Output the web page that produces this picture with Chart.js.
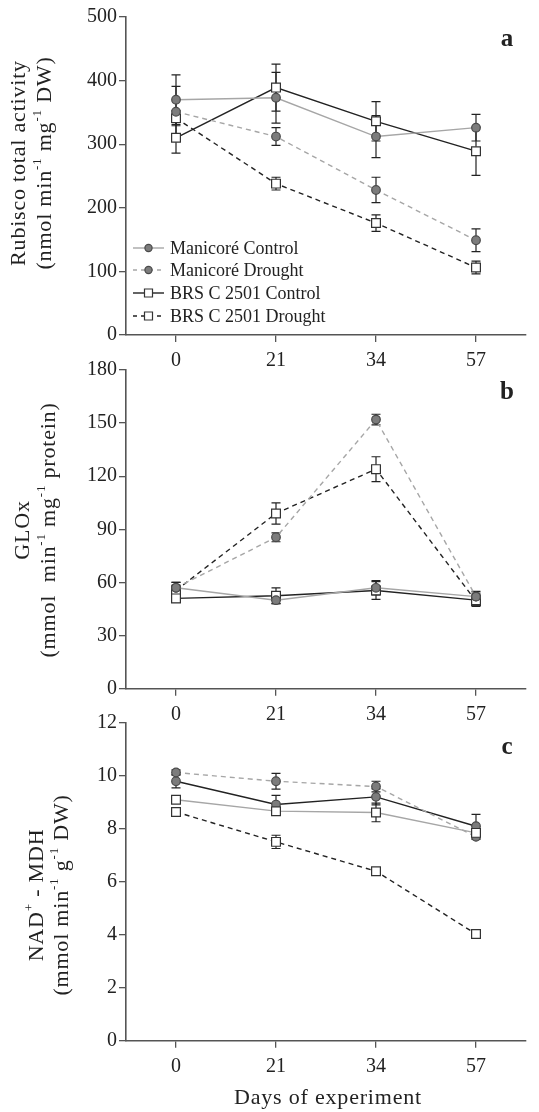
<!DOCTYPE html>
<html>
<head>
<meta charset="utf-8">
<script src="https://cdn.jsdelivr.net/npm/chart.js@4.4.1/dist/chart.umd.min.js"></script>
<style>
  body { margin: 0; background: #fff; width: 539px; height: 1112px; position: relative; overflow: hidden; }
  canvas { position: absolute; left: 0; }
</style>
</head>
<body>
<canvas id="chartA" width="539" height="372" style="top:0px"></canvas>
<canvas id="chartB" width="539" height="380" style="top:350px"></canvas>
<canvas id="chartC" width="539" height="412" style="top:700px"></canvas>
<script>
const days = ['0', '21', '34', '57'];
const seriesNames = ['Manicoré Control', 'Manicoré Drought', 'BRS C 2501 Control', 'BRS C 2501 Drought'];

// (a) Rubisco total activity
const rubiscoManControl = [370, 373, 312, 326];
const rubiscoManDrought = [351, 312, 228, 149];
const rubiscoBrsControl = [310, 389, 336, 289];
const rubiscoBrsDrought = [341, 238, 176, 106];
const rubiscoManControlErr = [39, 40, 33, 21];
const rubiscoManDroughtErr = [40, 14, 20, 18];
const rubiscoBrsControlErr = [24, 37, 31, 38];
const rubiscoBrsDroughtErr = [12, 10, 13, 10];
const rubiscoTicks = [0, 100, 200, 300, 400, 500];

// (b) GLOx
const gloxManControl = [57, 50, 57, 52];
const gloxManDrought = [57, 85.5, 152, 52];
const gloxBrsControl = [51, 52.5, 55.5, 50];
const gloxBrsDrought = [55.5, 99, 124, 49.5];
const gloxManControlErr = [3, 2, 4, 2];
const gloxManDroughtErr = [3, 2.5, 3, 3];
const gloxBrsControlErr = [2, 4.5, 5, 3];
const gloxBrsDroughtErr = [3, 6, 7, 3];
const gloxTicks = [0, 30, 60, 90, 120, 150, 180];

// (c) NAD+ - MDH
const mdhManControl = [9.1, 8.67, 8.62, 7.85];
const mdhManDrought = [10.13, 9.8, 9.6, 7.7];
const mdhBrsControl = [9.8, 8.92, 9.21, 8.1];
const mdhBrsDrought = [8.64, 7.51, 6.4, 4.03];
const mdhManControlErr = [0.1, 0.1, 0.35, 0.1];
const mdhManDroughtErr = [0.1, 0.3, 0.2, 0.1];
const mdhBrsControlErr = [0.25, 0.35, 0.3, 0.45];
const mdhBrsDroughtErr = [0.1, 0.25, 0.1, 0.05];
const mdhTicks = [0, 2, 4, 6, 8, 10, 12];

const FONT = "'Liberation Serif', 'Times New Roman', serif";
const GRAY_LINE = '#a6a6a6';
const DARK_LINE = '#222222';

const lineStyles = [
  { color: GRAY_LINE, dash: [] },
  { color: GRAY_LINE, dash: [5, 4] },
  { color: DARK_LINE, dash: [] },
  { color: DARK_LINE, dash: [5, 4] }
];
const circleMark = { style: 'circle', radius: 4.3, fill: '#7c7c7c', border: '#4a4a4a' };
const squareMark = { style: 'rect', radius: 6.2, fill: '#ffffff', border: '#333333' };

function buildDatasets(values, errors, marks) {
  return values.map((v, i) => ({
    label: seriesNames[i],
    data: v,
    errors: errors[i],
    borderColor: lineStyles[i].color,
    borderDash: lineStyles[i].dash,
    borderWidth: 1.4,
    pointStyle: marks[i].style,
    pointRadius: marks[i].radius,
    pointBackgroundColor: marks[i].fill,
    pointBorderColor: marks[i].border,
    pointBorderWidth: 1.2,
    fill: false,
    tension: 0
  }));
}

const errorBars = {
  id: 'errorBars',
  beforeDatasetsDraw(chart) {
    const ctx = chart.ctx;
    const ys = chart.scales.y;
    ctx.save();
    ctx.strokeStyle = '#222';
    ctx.lineWidth = 1.2;
    chart.data.datasets.forEach((ds, di) => {
      const meta = chart.getDatasetMeta(di);
      meta.data.forEach((pt, i) => {
        const e = ds.errors[i];
        const top = ys.getPixelForValue(ds.data[i] + e);
        const bot = ys.getPixelForValue(ds.data[i] - e);
        ctx.beginPath();
        ctx.moveTo(pt.x, top); ctx.lineTo(pt.x, bot);
        ctx.moveTo(pt.x - 4.5, top); ctx.lineTo(pt.x + 4.5, top);
        ctx.moveTo(pt.x - 4.5, bot); ctx.lineTo(pt.x + 4.5, bot);
        ctx.stroke();
      });
    });
    ctx.restore();
  }
};

function drawRich(ctx, segs, size) {
  let total = 0;
  segs.forEach(s => {
    ctx.font = (s.sup ? Math.round(size * 0.6) : size) + 'px ' + FONT;
    s.w = ctx.measureText(s.t).width;
    total += s.w;
  });
  let x = -total / 2;
  segs.forEach(s => {
    ctx.font = (s.sup ? Math.round(size * 0.6) : size) + 'px ' + FONT;
    ctx.fillText(s.t, x, s.sup ? -size * 0.33 : 0);
    x += s.w;
  });
}

const panelText = {
  id: 'panelText',
  afterDraw(chart, args, opts) {
    const ctx = chart.ctx;
    ctx.save();
    ctx.fillStyle = '#222';
    ctx.textBaseline = 'middle';
    ctx.textAlign = 'left';
    ctx.letterSpacing = '0.8px';
    opts.title.forEach((segs, k) => {
      ctx.save();
      ctx.translate(opts.titleX[k], opts.titleY);
      ctx.rotate(-Math.PI / 2);
      drawRich(ctx, segs, 22);
      ctx.restore();
    });
    if (opts.xTitle) {
      ctx.save();
      ctx.translate(opts.xTitle.x, opts.xTitle.y);
      drawRich(ctx, [{ t: opts.xTitle.text }], 22);
      ctx.restore();
    }
    ctx.letterSpacing = '0px';
    ctx.font = 'bold 25px ' + FONT;
    ctx.textAlign = 'center';
    ctx.fillText(opts.letter, 507, opts.letterY);

    if (opts.legendRows) {
      ctx.font = '18px ' + FONT;
      ctx.textAlign = 'left';
      chart.data.datasets.forEach((ds, i) => {
        const y = opts.legendRows[i];
        ctx.save();
        ctx.strokeStyle = ds.borderColor;
        ctx.lineWidth = 1.4;
        ctx.setLineDash(ds.borderDash.length ? [4, 4] : []);
        ctx.beginPath();
        ctx.moveTo(133, y); ctx.lineTo(164, y);
        ctx.stroke();
        ctx.setLineDash([]);
        ctx.fillStyle = ds.pointBackgroundColor;
        ctx.strokeStyle = ds.pointBorderColor;
        ctx.lineWidth = 1.2;
        ctx.beginPath();
        if (ds.pointStyle === 'circle') {
          ctx.arc(148.5, y, 3.6, 0, Math.PI * 2);
        } else {
          ctx.rect(144.5, y - 4, 8, 8);
        }
        ctx.fill(); ctx.stroke();
        ctx.restore();
        ctx.fillText(ds.label, 170, y + 1);
      });
    }
    ctx.restore();
  }
};

function makeChart(id, datasets, ticks, area, text) {
  const canvas = document.getElementById(id);
  const step = ticks[1] - ticks[0];
  return new Chart(canvas, {
    type: 'line',
    data: { labels: days, datasets: datasets },
    plugins: [errorBars, panelText],
    options: {
      responsive: false,
      animation: false,
      events: [],
      layout: { padding: { top: area.top, right: 13, left: 0, bottom: 0 } },
      plugins: { legend: { display: false }, tooltip: { enabled: false }, panelText: text },
      scales: {
        x: {
          type: 'category',
          offset: true,
          afterFit: s => { s.height = canvas.height - area.bottom; },
          grid: { display: true, drawOnChartArea: false, tickLength: 7, color: '#555', lineWidth: 1.3 },
          border: { display: true, color: '#555', width: 1.6 },
          ticks: { padding: 7, color: '#222', font: { family: FONT, size: 20 } }
        },
        y: {
          min: ticks[0],
          max: ticks[ticks.length - 1],
          afterFit: s => { s.width = 126; },
          grid: { display: true, drawOnChartArea: false, tickLength: 7, color: '#555', lineWidth: 1.3 },
          border: { display: true, color: '#555', width: 1.6 },
          ticks: { stepSize: step, padding: 2, color: '#222', font: { family: FONT, size: 20 } }
        }
      }
    }
  });
}

const standardMarks = [circleMark, circleMark, squareMark, squareMark];
// panel c: the solid lines carry swapped markers in the figure
const mdhMarks = [squareMark, circleMark, circleMark, squareMark];

makeChart('chartA',
  buildDatasets([rubiscoManControl, rubiscoManDrought, rubiscoBrsControl, rubiscoBrsDrought],
    [rubiscoManControlErr, rubiscoManDroughtErr, rubiscoBrsControlErr, rubiscoBrsDroughtErr], standardMarks),
  rubiscoTicks, { top: 17, bottom: 335 },
  {
    title: [[{ t: 'Rubisco total activity' }],
            [{ t: '(nmol min' }, { t: '-1', sup: true }, { t: ' mg' }, { t: '-1', sup: true }, { t: ' DW)' }]],
    titleX: [19, 45], titleY: 163, letter: 'a', letterY: 40,
    legendRows: [248, 270, 293, 316]
  });

makeChart('chartB',
  buildDatasets([gloxManControl, gloxManDrought, gloxBrsControl, gloxBrsDrought],
    [gloxManControlErr, gloxManDroughtErr, gloxBrsControlErr, gloxBrsDroughtErr], standardMarks),
  gloxTicks, { top: 20, bottom: 338.7 },
  {
    title: [[{ t: 'GLOx' }],
            [{ t: '(mmol  min' }, { t: '-1', sup: true }, { t: ' mg' }, { t: '-1', sup: true }, { t: ' protein)' }]],
    titleX: [23, 49], titleY: 180, letter: 'b', letterY: 43
  });

makeChart('chartC',
  buildDatasets([mdhManControl, mdhManDrought, mdhBrsControl, mdhBrsDrought],
    [mdhManControlErr, mdhManDroughtErr, mdhBrsControlErr, mdhBrsDroughtErr], mdhMarks),
  mdhTicks, { top: 23, bottom: 340.7 },
  {
    title: [[{ t: 'NAD' }, { t: '+', sup: true }, { t: ' - MDH' }],
            [{ t: '(mmol min' }, { t: '-1', sup: true }, { t: ' g' }, { t: '-1', sup: true }, { t: ' DW)' }]],
    titleX: [37, 62], titleY: 195, letter: 'c', letterY: 48,
    xTitle: { text: 'Days of experiment', x: 328, y: 398 }
  });
</script>
</body>
</html>
